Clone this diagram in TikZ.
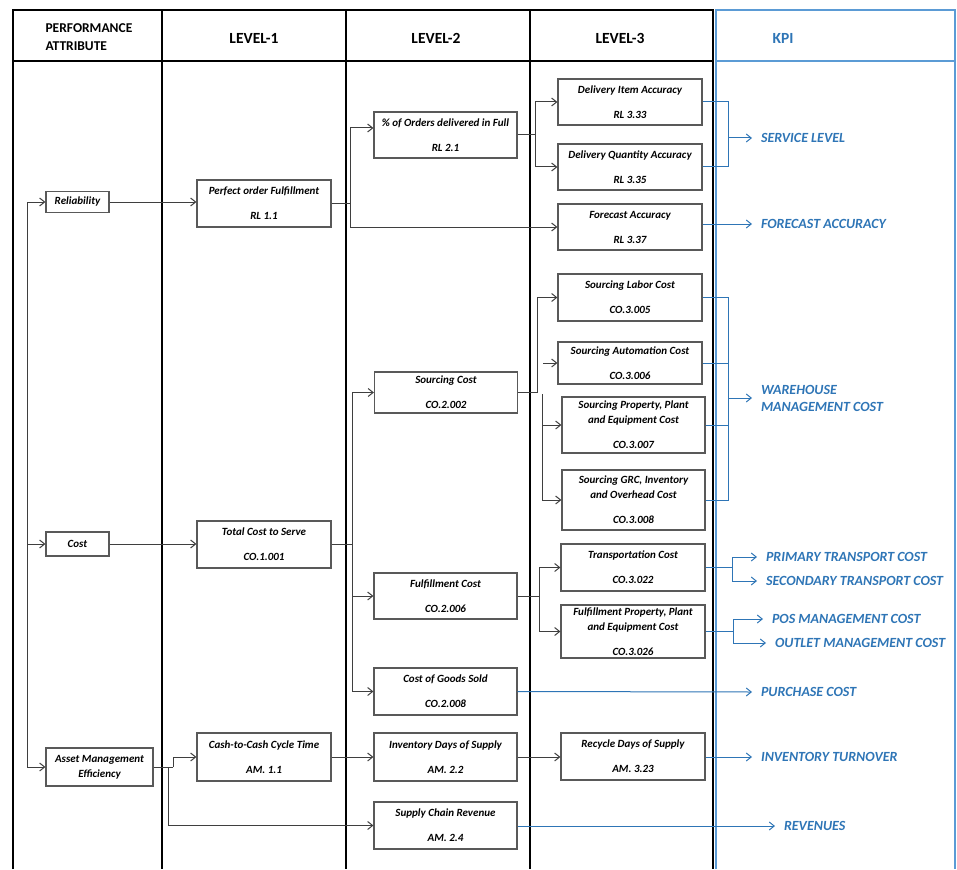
\documentclass[tikz,border=0pt]{standalone}
\usepackage{fontspec}
\setmainfont{Carlito}
\usetikzlibrary{arrows.meta,positioning}
\definecolor{cLine}{HTML}{3F3F3F}
\definecolor{cBox}{HTML}{595959}
\definecolor{cKpi}{HTML}{2E75B6}
\definecolor{cKpiFrame}{HTML}{5B9BD5}

\begin{document}
\begin{tikzpicture}[x=1pt,y=-1pt,
  tabline/.style={line width=1.7pt,black},
  kpiline/.style={line width=1.2pt,cKpiFrame},
  head/.style={font=\fontsize{15.5}{18}\selectfont\bfseries},
  metric/.style={draw=cBox,line width=1.2pt,fill=white,align=center,inner sep=1pt,
    font=\fontsize{11}{15}\selectfont\bfseries\itshape},
  l1/.style={metric,minimum width=134pt,minimum height=47pt},
  l2/.style={metric,minimum width=143pt,minimum height=46pt},
  l3/.style={metric,minimum width=144pt,minimum height=46pt},
  link/.style={cLine,line width=1pt},
  flow/.style={link,-{Straight Barb[length=5pt,width=8pt]}},
  klink/.style={cKpi,line width=1pt},
  kflow/.style={klink,-{Straight Barb[length=5pt,width=8pt]}},
  kpi/.style={anchor=west,text=cKpi,align=left,inner sep=1pt,outer xsep=8pt,
    font=\fontsize{14}{17}\selectfont\bfseries\itshape}]
  \useasboundingbox (0,0) rectangle (957,869);
  \draw[tabline] (13,869) -- (13,10) -- (713,10) -- (713,869);
  \draw[tabline] (13,61) -- (713,61);
  \foreach \x in {162,346,530} \draw[tabline] (\x,10) -- (\x,869);
  \draw[kpiline] (716,869) -- (716,10) -- (955,10) -- (955,869);
  \draw[kpiline] (716,61) -- (955,61);
  \node[head,align=left,anchor=west,font=\fontsize{13.5}{18}\selectfont\bfseries] (hpa) at (42,37) {PERFORMANCE\\ATTRIBUTE};
  \node[head] (hl1) at (254,38) {LEVEL-1};
  \node[head] (hl2) at (436,38) {LEVEL-2};
  \node[head] (hl3) at (620,38) {LEVEL-3};
  \node[head,text=cKpi] (hkpi) at (783,38) {KPI};

  \node[metric,minimum width=63pt,minimum height=21pt] (rel) at (77.5,202) {Reliability};
  \node[metric,minimum width=63pt,minimum height=24pt] (cost) at (77.5,544) {Cost};
  \node[metric,minimum width=107pt,minimum height=38pt] (ame) at (99.5,767) {Asset Management\\Efficiency};

  \node[l1] (pof) at (264,203.5) {Perfect order Fulfillment\\[10pt]RL 1.1};
  \node[l1] (tcs) at (264,544.5) {Total Cost to Serve\\[10pt]CO.1.001};
  \node[l1,minimum height=48pt] (c2c) at (264,757) {Cash-to-Cash Cycle Time\\[10pt]AM. 1.1};

  \node[l2] (odf) at (445.5,135) {\% of Orders delivered in Full\\[10pt]RL 2.1};
  \node[l2,minimum height=41pt] (sc) at (446,392.5) {Sourcing Cost\\[10pt]CO.2.002};
  \node[l2] (fc) at (445.5,596) {Fulfillment Cost\\[10pt]CO.2.006};
  \node[l2,minimum height=47pt] (cogs) at (445.5,691.5) {Cost of Goods Sold\\[10pt]CO.2.008};
  \node[l2,minimum height=48pt] (ids) at (445.5,757) {Inventory Days of Supply\\[10pt]AM. 2.2};
  \node[l2,minimum height=47pt] (scr) at (445.5,825.5) {Supply Chain Revenue\\[10pt]AM. 2.4};

  \node[l3] (dia) at (630,102) {Delivery Item Accuracy\\[10pt]RL 3.33};
  \node[l3] (dqa) at (630,167) {Delivery Quantity Accuracy\\[10pt]RL 3.35};
  \node[l3] (fa) at (630,227) {Forecast Accuracy\\[10pt]RL 3.37};
  \node[l3,minimum height=47pt] (slc) at (630,297.5) {Sourcing Labor Cost\\[10pt]CO.3.005};
  \node[l3,minimum height=42pt] (sac) at (630,363) {Sourcing Automation Cost\\[10pt]CO.3.006};
  \node[l3,minimum width=143pt,minimum height=56pt] (spp) at (633.5,425) {Sourcing Property, Plant\\and Equipment Cost\\[10pt]CO.3.007};
  \node[l3,minimum width=143pt,minimum height=60pt] (sgrc) at (633.5,500) {Sourcing GRC, Inventory\\and Overhead Cost\\[10pt]CO.3.008};
  \node[l3,minimum height=47pt] (tc) at (633,567.5) {Transportation Cost\\[10pt]CO.3.022};
  \node[l3,minimum height=53pt] (fpp) at (633,631.5) {Fulfillment Property, Plant\\and Equipment Cost\\[10pt]CO.3.026};
  \node[l3,minimum height=47pt] (rds) at (633,756.5) {Recycle Days of Supply\\[10pt]AM. 3.23};

  \node[kpi] (svc) at (752,138) {SERVICE LEVEL};
  \node[kpi] (fcst) at (752,224) {FORECAST ACCURACY};
  \node[kpi] (whm) at (752,398) {WAREHOUSE\\MANAGEMENT COST};
  \node[kpi] (ptc) at (757,557) {PRIMARY TRANSPORT COST};
  \node[kpi] (stc) at (757,581) {SECONDARY TRANSPORT COST};
  \node[kpi] (pos) at (763,619) {POS MANAGEMENT COST};
  \node[kpi] (olt) at (766,643) {OUTLET MANAGEMENT COST};
  \node[kpi] (pur) at (752,692) {PURCHASE COST};
  \node[kpi] (inv) at (752,757) {INVENTORY TURNOVER};
  \node[kpi] (rev) at (775,826) {REVENUES};

  \coordinate (bustop) at (27,202);
  \coordinate (busbot) at (27,767);
  \draw[link] (bustop) -- (busbot);
  \draw[flow] (bustop) -- (rel.west);
  \draw[flow] (bustop |- cost.west) -- (cost.west);
  \draw[flow] (busbot) -- (ame.west);
  \draw[flow] (rel.east) -- (rel.east -| pof.west);
  \draw[flow] (cost.east) -- (cost.east -| tcs.west);

  \coordinate (j1) at (350,203.5);
  \draw[link] (pof.east) -- (j1);
  \draw[flow] (j1) |- ([yshift=7pt]odf.west);
  \draw[flow] (j1) |- (fa.west);
  \coordinate (j2) at (535,135);
  \draw[link] (odf.east) -- (j2);
  \draw[flow] (j2) |- (dia.west);
  \draw[flow] (j2) |- (dqa.west);

  \coordinate (j3) at (352,544.5);
  \draw[link] (tcs.east) -- (j3);
  \draw[flow] (j3) |- (sc.west);
  \draw[flow] (j3) |- (fc.west);
  \draw[flow] (j3) |- (cogs.west);
  \coordinate (j4) at (537,392.5);
  \draw[link] (sc.east) -- (j4);
  \draw[flow] (j4) |- (slc.west);
  \coordinate (sacin) at (543,363);
  \draw[flow] (sacin) -- (sac.west);
  \coordinate (j5) at (542,394);
  \draw[flow] (j5) |- (spp.west);
  \draw[flow] (j5) |- (sgrc.west);
  \coordinate (j6) at (539,596);
  \draw[link] (fc.east) -- (j6);
  \draw[flow] (j6) |- (tc.west);
  \draw[flow] (j6) |- (fpp.west);

  \coordinate (j7) at (173,767);
  \coordinate (j8) at (168,767);
  \draw[link] (ame.east) -- (j7);
  \draw[flow] (j7) |- (c2c.west);
  \draw[flow] (j8) |- (scr.west);
  \draw[flow] (c2c.east) -- (c2c.east -| ids.west);
  \draw[flow] (ids.east) -- (ids.east -| rds.west);

  \coordinate (k1) at (728,138);
  \draw[klink] (dia.east) -| (k1);
  \draw[klink] (dqa.east) -| (k1);
  \draw[kflow] (k1) -- (svc.west);
  \draw[kflow] (fa.east |- fcst.west) -- (fcst.west);
  \coordinate (k2) at (728,398);
  \draw[klink] (slc.east) -| (k2);
  \draw[klink] (sac.east) -| (k2);
  \draw[klink] (spp.east) -| (k2);
  \draw[klink] (sgrc.east) -| (k2);
  \draw[kflow] (k2) -- (whm.west);
  \coordinate (k3) at (732,567.5);
  \draw[klink] (tc.east) -- (k3);
  \draw[kflow] (k3) |- (ptc.west);
  \draw[kflow] (k3) |- (stc.west);
  \coordinate (k4) at (733,631.5);
  \draw[klink] (fpp.east) -- (k4);
  \draw[kflow] (k4) |- (pos.west);
  \draw[kflow] (k4) |- (olt.west);
  \draw[kflow] (cogs.east) -- (pur.west);
  \draw[kflow] (rds.east |- inv.west) -- (inv.west);
  \draw[kflow] (scr.east |- rev.west) -- (rev.west);
\end{tikzpicture}
\end{document}
